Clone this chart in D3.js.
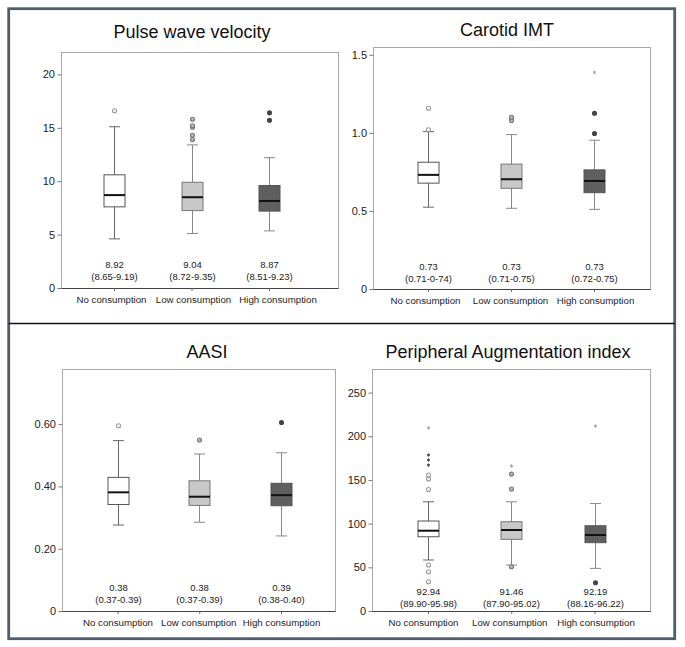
<!DOCTYPE html>
<html>
<head>
<meta charset="utf-8">
<script src="https://cdn.jsdelivr.net/npm/d3@7"></script>
<style>
  body { margin: 0; background: #fff; }
  svg text { font-family: "Liberation Sans", Arial, sans-serif; }
</style>
</head>
<body>
<div id="wrapper"></div>
<script>
// groups shared by every panel
const groups = ["No consumption", "Low consumption", "High consumption"]

// box stats per group: [lower whisker, Q1, median, Q3, upper whisker]
const pwvStats = [[4.6, 7.6, 8.7, 10.6, 15.1], [5.1, 7.25, 8.5, 9.9, 13.4], [5.35, 7.2, 8.15, 9.6, 12.2]]
const pwvOutliers = [[16.6], [13.9, 14.3, 15.05, 15.2, 15.8], [15.7, 16.4]]
const pwvExtremes = [[], [], []]
const pwvMeans = ["8.92", "9.04", "8.87"]
const pwvCi = ["(8.65-9.19)", "(8.72-9.35)", "(8.51-9.23)"]
const pwvTicks = [0, 5, 10, 15, 20]
const pwvTickLabels = ["0", "5", "10", "15", "20"]

const imtStats = [[0.524, 0.678, 0.731, 0.812, 1.008], [0.517, 0.645, 0.703, 0.80, 0.989], [0.51, 0.617, 0.692, 0.763, 0.953]]
const imtOutliers = [[1.02, 1.158], [1.079, 1.10], [0.996, 1.126]]
const imtExtremes = [[], [], [1.387]]
const imtMeans = ["0.73", "0.73", "0.73"]
const imtCi = ["(0.71-0-74)", "(0.71-0.75)", "(0.72-0.75)"]
const imtTicks = [0, 0.5, 1.0, 1.5]
const imtTickLabels = ["0", "0.5", "1.0", "1.5"]

const aasiStats = [[0.276, 0.342, 0.381, 0.429, 0.547], [0.285, 0.339, 0.367, 0.418, 0.504], [0.241, 0.338, 0.372, 0.41, 0.508]]
const aasiOutliers = [[0.595], [0.549], [0.605]]
const aasiExtremes = [[], [], []]
const aasiMeans = ["0.38", "0.38", "0.39"]
const aasiCi = ["(0.37-0.39)", "(0.37-0.39)", "(0.38-0.40)"]
const aasiTicks = [0, 0.2, 0.4, 0.6]
const aasiTickLabels = ["0", "0.20", "0.40", "0.60"]

const paixStats = [[58.4, 85, 91.9, 103, 125], [52.6, 82, 92.7, 102.2, 125], [48.8, 78.2, 87, 97.6, 123]]
const paixOutliers = [[33.5, 45, 52.6, 139, 151, 155.6], [50.7, 139.6, 156.7], [32.4]]
const paixExtremes = [[167, 172.8, 178.5, 209.7], [166], [211.7]]
const paixMeans = ["92.94", "91.46", "92.19"]
const paixCi = ["(89.90-95.98)", "(87.90-95.02)", "(88.16-96.22)"]
const paixTicks = [0, 50, 100, 150, 200, 250]
const paixTickLabels = ["0", "50", "100", "150", "200", "250"]

// per-group look
const boxFill = ["#ffffff", "#c8c8c8", "#5f5f5f"]
const boxStroke = ["#555555", "#777777", "#555555"]
const whiskerStroke = ["#666666", "#888888", "#888888"]
const outlierFill = ["#ffffff", "#bbbbbb", "#444444"]
const outlierStroke = ["#999999", "#777777", "#444444"]

const panels = [
    {title: "Pulse wave velocity", stats: pwvStats, outliers: pwvOutliers, extremes: pwvExtremes, means: pwvMeans, ci: pwvCi,
     ticks: pwvTicks, tickLabels: pwvTickLabels, max: 22.1,
     left: 61, top: 52, width: 277, height: 236, cx: [53, 208], labelDx: [-3, 1.5, 8.5], titleX: 192, titleY: 38, textDy: [-20, -8]},
    {title: "Carotid IMT", stats: imtStats, outliers: imtOutliers, extremes: imtExtremes, means: imtMeans, ci: imtCi,
     ticks: imtTicks, tickLabels: imtTickLabels, max: 1.55,
     left: 373, top: 47, width: 277, height: 242, cx: [55, 221], labelDx: [-3, -1, 1], titleX: 507, titleY: 36, textDy: [-19, -7]},
    {title: "AASI", stats: aasiStats, outliers: aasiOutliers, extremes: aasiExtremes, means: aasiMeans, ci: aasiCi,
     ticks: aasiTicks, tickLabels: aasiTickLabels, max: 0.777,
     left: 62, top: 369, width: 273, height: 242, cx: [55.5, 219], labelDx: [0, -1, 0], titleX: 207, titleY: 358, textDy: [-20, -8]},
    {title: "Peripheral Augmentation index", stats: paixStats, outliers: paixOutliers, extremes: paixExtremes, means: paixMeans, ci: paixCi,
     ticks: paixTicks, tickLabels: paixTickLabels, max: 277,
     left: 372, top: 369, width: 278, height: 242, cx: [56, 222.5], labelDx: [-5, -2, 1], titleX: 508, titleY: 358, textDy: [-16, -4]},
]

const W = 685, H = 647

const svg = d3.select("#wrapper")
              .append("svg")
              .attr("width", W)
              .attr("height", H)

// outer frame and the divider between the two rows
svg.append("rect")
   .attr("x", 8.7).attr("y", 8.7)
   .attr("width", 666).attr("height", 630)
   .attr("fill", "none")
   .attr("stroke", "#4e5e6e")
   .attr("stroke-width", 2.8)

svg.append("line")
   .attr("x1", 8.7).attr("x2", 674.7)
   .attr("y1", 323.5).attr("y2", 323.5)
   .attr("stroke", "#111")
   .attr("stroke-width", 1.3)

panels.forEach(p => {
    const g = svg.append("g").attr("transform", `translate(${p.left},${p.top})`)

    const yScale = d3.scaleLinear()
                     .domain([0, p.max])
                     .range([p.height, 0])

    const xScale = d3.scalePoint()
                     .domain(groups)
                     .range(p.cx)

    svg.append("text")
       .attr("x", p.titleX)
       .attr("y", p.titleY)
       .attr("text-anchor", "middle")
       .attr("fill", "#111")
       .style("font-size", "18px")
       .text(p.title)

    g.append("rect")
     .attr("x", 0.5).attr("y", 0.5)
     .attr("width", p.width).attr("height", p.height)
     .attr("fill", "none")
     .attr("stroke", "#a8a8a8")

    const yAxis = g.append("g")
                   .call(d3.axisLeft(yScale)
                           .tickValues(p.ticks)
                           .tickFormat((d, i) => p.tickLabels[i])
                           .tickSize(4)
                           .tickPadding(2))
    yAxis.select(".domain").remove()
    yAxis.selectAll(".tick line").attr("stroke", "#777").attr("transform", "translate(0.5,0)")
    yAxis.selectAll(".tick text").attr("fill", "#222").style("font-size", "11px")

    const xAxis = g.append("g")
                   .attr("transform", `translate(0,${p.height})`)
                   .call(d3.axisBottom(xScale).tickSize(3).tickPadding(5))
    xAxis.select(".domain").attr("stroke", "#444").attr("d", `M0.5,0.5H${p.width + 0.5}`)
    xAxis.selectAll(".tick line").attr("stroke", "#666")
    xAxis.selectAll(".tick text")
         .attr("fill", "#222")
         .attr("dx", (d, i) => p.labelDx[i])
         .style("font-size", "9.7px")

    const bw = 21, cap = 11

    groups.forEach((grp, i) => {
        const [lo, q1, med, q3, hi] = p.stats[i]
        const cx = Math.round(xScale(grp)) + 0.5

        g.append("line")
         .attr("x1", cx).attr("x2", cx)
         .attr("y1", yScale(lo)).attr("y2", yScale(q1))
         .attr("stroke", whiskerStroke[i])
        g.append("line")
         .attr("x1", cx).attr("x2", cx)
         .attr("y1", yScale(q3)).attr("y2", yScale(hi))
         .attr("stroke", whiskerStroke[i])
        ;[lo, hi].forEach(v => {
            g.append("line")
             .attr("x1", cx - cap / 2).attr("x2", cx + cap / 2)
             .attr("y1", yScale(v)).attr("y2", yScale(v))
             .attr("stroke", whiskerStroke[i])
        })

        g.append("rect")
         .attr("x", cx - bw / 2)
         .attr("y", yScale(q3))
         .attr("width", bw)
         .attr("height", yScale(q1) - yScale(q3))
         .attr("fill", boxFill[i])
         .attr("stroke", boxStroke[i])

        g.append("line")
         .attr("x1", cx - bw / 2).attr("x2", cx + bw / 2)
         .attr("y1", yScale(med)).attr("y2", yScale(med))
         .attr("stroke", "#111")
         .attr("stroke-width", 2)

        g.selectAll(null)
         .data(p.outliers[i])
         .enter()
         .append("circle")
         .attr("cx", cx)
         .attr("cy", d => yScale(d))
         .attr("r", 2)
         .attr("fill", outlierFill[i])
         .attr("stroke", outlierStroke[i])
         .attr("stroke-width", 1.1)

        // extreme values: small asterisk marks
        g.selectAll(null)
         .data(p.extremes[i])
         .enter()
         .append("path")
         .attr("transform", d => `translate(${cx},${yScale(d)})`)
         .attr("d", d3.symbol().type(d3.symbolAsterisk).size(8))
         .attr("fill", "none")
         .attr("stroke", d => (p.title !== "Carotid IMT" && d < 200 && i === 0) ? "#555" : "#aaa")
         .attr("stroke-width", 1)

        g.append("text")
         .attr("x", cx)
         .attr("y", p.height + p.textDy[0])
         .attr("text-anchor", "middle")
         .attr("fill", "#222")
         .style("font-size", "9.5px")
         .text(p.means[i])

        g.append("text")
         .attr("x", cx)
         .attr("y", p.height + p.textDy[1])
         .attr("text-anchor", "middle")
         .attr("fill", "#222")
         .style("font-size", "9.5px")
         .text(p.ci[i])
    })
})
</script>
</body>
</html>
